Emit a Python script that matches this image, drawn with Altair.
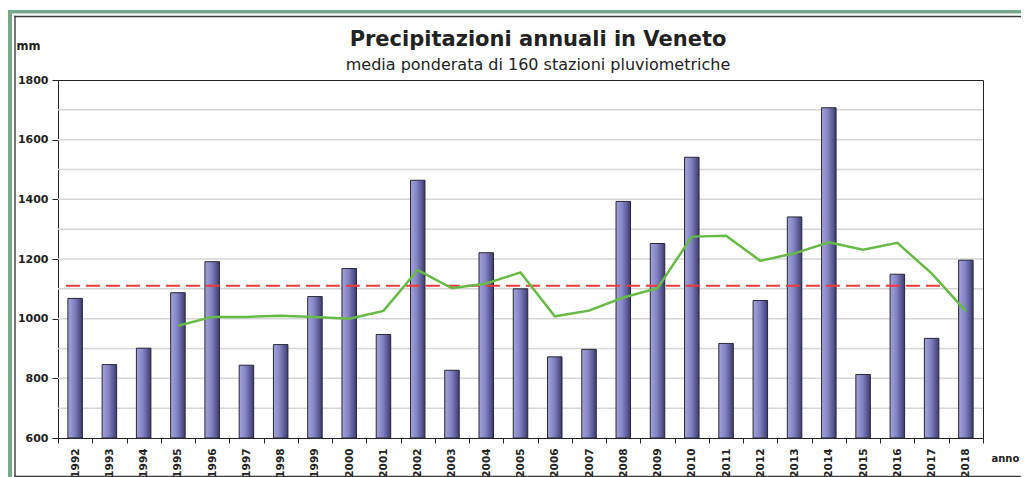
import altair as alt
import pandas as pd

years = [str(y) for y in range(1992, 2019)]
rain = [1068, 846, 901, 1087, 1191, 844, 913, 1074, 1168, 947, 1464, 827, 1221,
        1100, 872, 897, 1393, 1252, 1541, 917, 1061, 1341, 1707, 813, 1149, 934, 1196]
moving_avg = [None, None, None, 976, 1006, 1006, 1010, 1006, 1000, 1026, 1163, 1102,
              1118, 1155, 1008, 1027, 1071, 1102, 1275, 1278, 1194, 1219, 1256, 1231,
              1254, 1152, 1025]
mean_value = 1110
mean_start, mean_end = "1992", "2017"
grid_values = [700, 800, 900, 1000, 1100, 1200, 1300, 1400, 1500, 1600, 1700]
y_ticks = [600, 800, 1000, 1200, 1400, 1600, 1800]
title_text = "Precipitazioni annuali in Veneto"
subtitle_text = "media ponderata di 160 stazioni pluviometriche"

df = pd.DataFrame({"anno": years, "mm": rain, "media": moving_avg})
df_avg = df.dropna(subset=["media"])
df_mean = pd.DataFrame({"start": [mean_start], "end": [mean_end], "val": [mean_value]})
df_grid = pd.DataFrame({"g": grid_values})
df_one = pd.DataFrame({"a": [0]})

FONT = "DejaVu Sans"
W, H = 925, 358
PAD_L, PAD_T, PAD_R, PAD_B = 50, 72, 38, 39
RIGHT_END = 1200   # frame continues beyond the right edge, as in the reference
GREEN = "#76a98b"
DARK = "#3a3a3a"

xscale = alt.Scale(domain=years, paddingInner=0, paddingOuter=0)
yscale = alt.Scale(domain=[600, 1800], nice=False, zero=False)

base_one = alt.Chart(df_one)


def band(x, x2, y, y2, color):
    """A filled strip of the decorative outer frame (pixel coords of the plot)."""
    return base_one.mark_rect(fill=color, stroke=None, strokeWidth=0).encode(
        x=alt.value(x), x2=alt.value(x2), y=alt.value(y), y2=alt.value(y2)
    )


green_left = band(-50, -46, -70, 420, GREEN)
green_top = band(-50, RIGHT_END, -70, -66.6, GREEN)
dark_left = band(-43.7, -42.3, -64.2, 397.2, DARK)
dark_top = band(-43.7, RIGHT_END, -64.2, -62.8, DARK)
dark_bottom = band(-43.7, RIGHT_END, 395.8, 397.2, DARK)

title_mark = base_one.mark_text(
    text=title_text, font=FONT, fontSize=21, fontWeight="bold", color="#222",
    align="center", baseline="alphabetic"
).encode(x=alt.value(480), y=alt.value(-34))
subtitle_mark = base_one.mark_text(
    text=subtitle_text, font=FONT, fontSize=16, color="#222",
    align="center", baseline="alphabetic"
).encode(x=alt.value(480), y=alt.value(-10))

grid = alt.Chart(df_grid).mark_rule(color="#d6d6d6", strokeWidth=1.5).encode(
    y=alt.Y("g:Q", scale=yscale)
)

bar_gradient = alt.Gradient(
    gradient="linear",
    stops=[
        alt.GradientStop(color="#a3a3da", offset=0),
        alt.GradientStop(color="#8383c4", offset=0.45),
        alt.GradientStop(color="#3c3c72", offset=1),
    ],
    x1=0, x2=1, y1=0, y2=0,
)

bars = alt.Chart(df).mark_bar(
    color=bar_gradient, stroke="#262636", strokeWidth=1, size=14.5
).encode(
    x=alt.X(
        "anno:N",
        scale=xscale,
        axis=alt.Axis(
            title="anno",
            titleFont=FONT, titleFontSize=10, titleFontWeight="bold", titleColor="#222",
            titleAngle=0, titleAlign="left", titleBaseline="middle",
            titleX=933, titleY=20,
            labelAngle=-90, labelAlign="right", labelBaseline="middle",
            labelFont=FONT, labelFontSize=10.5, labelFontWeight="bold", labelColor="#222",
            labelPadding=5, tickBand="extent", tickSize=5, tickColor="#222",
            domainColor="#222", grid=False,
        ),
    ),
    y=alt.Y(
        "mm:Q",
        scale=yscale,
        axis=alt.Axis(
            values=y_ticks, format="d",
            title="mm",
            titleFont=FONT, titleFontSize=11.5, titleFontWeight="bold", titleColor="#222",
            titleAngle=0, titleAlign="left", titleBaseline="alphabetic",
            titleX=-42, titleY=-31,
            labelFont=FONT, labelFontSize=11, labelFontWeight="bold", labelColor="#222",
            labelPadding=4, tickSize=6, tickColor="#222", domainColor="#222", grid=False,
        ),
    ),
    y2=alt.datum(600),
)

mean_rule = alt.Chart(df_mean).mark_rule(
    color="#ee3a3a", strokeWidth=2, strokeDash=[14, 6]
).encode(
    x=alt.X("start:N", scale=xscale, bandPosition=0.23),
    x2=alt.X2("end:N", bandPosition=0.8),
    y=alt.Y("val:Q", scale=yscale),
)

avg_line = alt.Chart(df_avg).mark_line(color="#66bb44", strokeWidth=2.5).encode(
    x=alt.X("anno:N", scale=xscale),
    y=alt.Y("media:Q", scale=yscale),
)

chart = alt.layer(
    green_left, green_top, dark_left, dark_top, dark_bottom,
    title_mark, subtitle_mark, grid, bars, mean_rule, avg_line
).properties(
    width=W,
    height=H,
    padding={"left": PAD_L, "top": PAD_T, "right": PAD_R, "bottom": PAD_B},
    autosize=alt.AutoSizeParams(type="none"),
    background="white",
).configure_view(stroke="#222", strokeWidth=1)

chart.save("out.html", embed_options={"renderer": "svg", "actions": False})
